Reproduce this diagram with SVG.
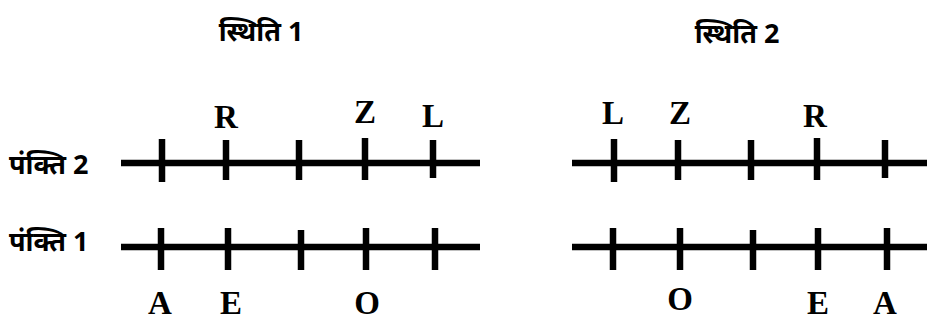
<svg xmlns="http://www.w3.org/2000/svg" width="927" height="323" viewBox="0 0 927 323">
<style>
.ln{stroke:#000;stroke-width:6.5;fill:none}
.tk{stroke:#000;stroke-width:6.5;fill:none}
.lt{font-family:"Liberation Serif",serif;font-weight:bold;font-size:33px;text-anchor:middle;fill:#000}
.hd{font-family:"Noto Sans","Noto Sans Devanagari",sans-serif;font-weight:bold;font-size:27px;text-anchor:middle;fill:#000}
.rw{font-family:"Noto Sans","Noto Sans Devanagari",sans-serif;font-weight:bold;font-size:27px;fill:#000}
</style>
<rect width="927" height="323" fill="#fff"/>
<g id="titles">
<text class="hd" x="261" y="41">स्थिति 1</text>
<text class="hd" x="737" y="43">स्थिति 2</text>
</g>
<g id="row-labels">
<text class="rw" x="9" y="174">पंक्ति 2</text>
<text class="rw" x="9" y="251">पंक्ति 1</text>
</g>
<g id="connectors">
<line class="ln" x1="121" y1="163" x2="480" y2="163"/>
<line class="ln" x1="121" y1="247" x2="480" y2="247"/>
<line class="ln" x1="572" y1="163" x2="927" y2="163"/>
<line class="ln" x1="572" y1="247" x2="927" y2="247"/>
</g>
<g id="case1-row2">
<line class="tk" x1="162" y1="139" x2="162" y2="182"/>
<line class="tk" x1="226" y1="140" x2="226" y2="180"/>
<line class="tk" x1="299" y1="140" x2="299" y2="180"/>
<line class="tk" x1="365" y1="138" x2="365" y2="180"/>
<line class="tk" x1="433" y1="140" x2="433" y2="178"/>
<text class="lt" x="226" y="128">R</text>
<text class="lt" x="365" y="123">Z</text>
<text class="lt" x="433" y="127">L</text>
</g>
<g id="case1-row1">
<line class="tk" x1="161" y1="228" x2="161" y2="270"/>
<line class="tk" x1="228" y1="228" x2="228" y2="270"/>
<line class="tk" x1="301" y1="230" x2="301" y2="270"/>
<line class="tk" x1="366" y1="228" x2="366" y2="270"/>
<line class="tk" x1="435" y1="228" x2="435" y2="270"/>
<text class="lt" x="160" y="314">A</text>
<text class="lt" x="231" y="314">E</text>
<text class="lt" x="367" y="314">O</text>
</g>
<g id="case2-row2">
<line class="tk" x1="614" y1="139" x2="614" y2="182"/>
<line class="tk" x1="678" y1="140" x2="678" y2="180"/>
<line class="tk" x1="751" y1="140" x2="751" y2="180"/>
<line class="tk" x1="817" y1="138" x2="817" y2="180"/>
<line class="tk" x1="885" y1="140" x2="885" y2="178"/>
<text class="lt" x="613" y="124">L</text>
<text class="lt" x="680" y="124">Z</text>
<text class="lt" x="815" y="127">R</text>
</g>
<g id="case2-row1">
<line class="tk" x1="613" y1="228" x2="613" y2="270"/>
<line class="tk" x1="680" y1="228" x2="680" y2="270"/>
<line class="tk" x1="753" y1="230" x2="753" y2="270"/>
<line class="tk" x1="818" y1="228" x2="818" y2="270"/>
<line class="tk" x1="887" y1="228" x2="887" y2="270"/>
<text class="lt" x="680" y="310">O</text>
<text class="lt" x="818" y="314">E</text>
<text class="lt" x="885" y="314">A</text>
</g>
</svg>
